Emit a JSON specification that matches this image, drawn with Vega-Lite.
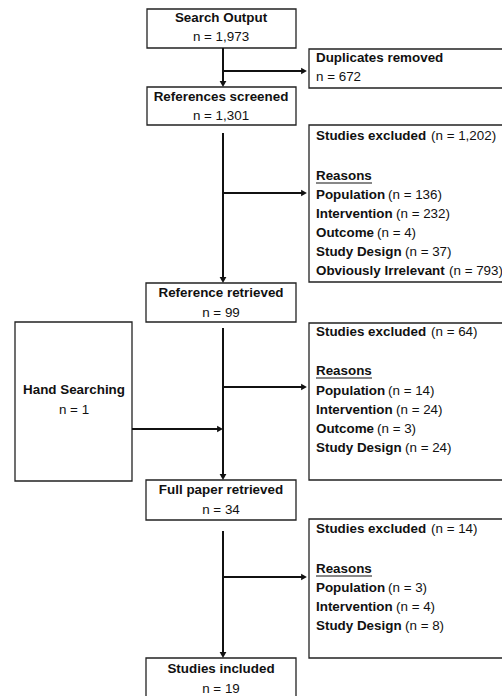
{
  "$schema": "https://vega.github.io/schema/vega-lite/v6.json",
  "width": 502,
  "height": 696,
  "autosize": "none",
  "padding": 0,
  "background": "white",
  "config": {"view": {"stroke": null}, "text": {"font": "Liberation Sans", "fontSize": 13.4, "color": "#111", "baseline": "middle"}},
  "datasets": {
    "boxes": [
      {"name": "Search Output", "x1": 147, "x2": 296, "y1": 9, "y2": 48},
      {"name": "References screened", "x1": 147, "x2": 296, "y1": 87, "y2": 125},
      {"name": "Reference retrieved", "x1": 146, "x2": 296, "y1": 283, "y2": 322},
      {"name": "Full paper retrieved", "x1": 146, "x2": 296, "y1": 480, "y2": 520},
      {"name": "Studies included", "x1": 146, "x2": 296, "y1": 658, "y2": 700},
      {"name": "Hand Searching", "x1": 15, "x2": 132, "y1": 322, "y2": 481},
      {"name": "Duplicates removed", "x1": 309, "x2": 505, "y1": 49, "y2": 88},
      {"name": "Excluded 1", "x1": 309, "x2": 505, "y1": 125, "y2": 282},
      {"name": "Excluded 2", "x1": 309, "x2": 505, "y1": 323, "y2": 480},
      {"name": "Excluded 3", "x1": 309, "x2": 505, "y1": 519, "y2": 658}
    ],
    "lines": [
      {"kind": "connector", "x1": 223, "x2": 223, "y1": 48, "y2": 83},
      {"kind": "connector", "x1": 223, "x2": 303, "y1": 71, "y2": 71},
      {"kind": "connector", "x1": 223, "x2": 223, "y1": 133, "y2": 279},
      {"kind": "connector", "x1": 223, "x2": 303, "y1": 193, "y2": 193},
      {"kind": "connector", "x1": 223, "x2": 223, "y1": 328, "y2": 476},
      {"kind": "connector", "x1": 223, "x2": 303, "y1": 387, "y2": 387},
      {"kind": "connector", "x1": 132, "x2": 219, "y1": 429, "y2": 429},
      {"kind": "connector", "x1": 223, "x2": 223, "y1": 531, "y2": 654},
      {"kind": "connector", "x1": 223, "x2": 303, "y1": 577, "y2": 577},
      {"kind": "underline", "x1": 316, "x2": 372, "y1": 183, "y2": 183},
      {"kind": "underline", "x1": 316, "x2": 372, "y1": 378, "y2": 378},
      {"kind": "underline", "x1": 316, "x2": 372, "y1": 576, "y2": 576}
    ],
    "heads": [
      {"x": 223, "y": 84, "dir": "down"},
      {"x": 304, "y": 71, "dir": "right"},
      {"x": 223, "y": 280, "dir": "down"},
      {"x": 304, "y": 193, "dir": "right"},
      {"x": 223, "y": 477, "dir": "down"},
      {"x": 304, "y": 387, "dir": "right"},
      {"x": 220, "y": 429, "dir": "right"},
      {"x": 223, "y": 655, "dir": "down"},
      {"x": 304, "y": 577, "dir": "right"}
    ],
    "labels": [
      {"role": "title", "x": 221, "y": 18, "text": "Search Output"},
      {"role": "title", "x": 221, "y": 97, "text": "References screened"},
      {"role": "title", "x": 221, "y": 293, "text": "Reference retrieved"},
      {"role": "title", "x": 221, "y": 490, "text": "Full paper retrieved"},
      {"role": "title", "x": 221, "y": 669, "text": "Studies included"},
      {"role": "title", "x": 74, "y": 390, "text": "Hand Searching"},
      {"role": "count", "x": 221, "y": 37, "text": "n = 1,973"},
      {"role": "count", "x": 221, "y": 116, "text": "n = 1,301"},
      {"role": "count", "x": 221, "y": 313, "text": "n = 99"},
      {"role": "count", "x": 221, "y": 510, "text": "n = 34"},
      {"role": "count", "x": 221, "y": 689, "text": "n = 19"},
      {"role": "count", "x": 74, "y": 410, "text": "n = 1"},
      {"role": "head", "x": 316, "y": 58, "text": "Duplicates removed"},
      {"role": "detail", "x": 316, "y": 77, "text": "n = 672"},
      {"role": "head", "x": 316, "y": 136, "text": "Studies excluded"},
      {"role": "detail", "x": 431, "y": 136, "text": "(n = 1,202)"},
      {"role": "head", "x": 316, "y": 176, "text": "Reasons"},
      {"role": "head", "x": 316, "y": 195, "text": "Population"},
      {"role": "detail", "x": 388, "y": 195, "text": "(n = 136)"},
      {"role": "head", "x": 316, "y": 214, "text": "Intervention"},
      {"role": "detail", "x": 396, "y": 214, "text": "(n = 232)"},
      {"role": "head", "x": 316, "y": 233, "text": "Outcome"},
      {"role": "detail", "x": 377, "y": 233, "text": "(n = 4)"},
      {"role": "head", "x": 316, "y": 252, "text": "Study Design"},
      {"role": "detail", "x": 405, "y": 252, "text": "(n = 37)"},
      {"role": "head", "x": 316, "y": 271, "text": "Obviously Irrelevant"},
      {"role": "detail", "x": 449, "y": 271, "text": "(n = 793)"},
      {"role": "head", "x": 316, "y": 332, "text": "Studies excluded"},
      {"role": "detail", "x": 431, "y": 332, "text": "(n = 64)"},
      {"role": "head", "x": 316, "y": 371, "text": "Reasons"},
      {"role": "head", "x": 316, "y": 391, "text": "Population"},
      {"role": "detail", "x": 388, "y": 391, "text": "(n = 14)"},
      {"role": "head", "x": 316, "y": 410, "text": "Intervention"},
      {"role": "detail", "x": 396, "y": 410, "text": "(n = 24)"},
      {"role": "head", "x": 316, "y": 429, "text": "Outcome"},
      {"role": "detail", "x": 377, "y": 429, "text": "(n = 3)"},
      {"role": "head", "x": 316, "y": 448, "text": "Study Design"},
      {"role": "detail", "x": 405, "y": 448, "text": "(n = 24)"},
      {"role": "head", "x": 316, "y": 529, "text": "Studies excluded"},
      {"role": "detail", "x": 431, "y": 529, "text": "(n = 14)"},
      {"role": "head", "x": 316, "y": 569, "text": "Reasons"},
      {"role": "head", "x": 316, "y": 588, "text": "Population"},
      {"role": "detail", "x": 388, "y": 588, "text": "(n = 3)"},
      {"role": "head", "x": 316, "y": 607, "text": "Intervention"},
      {"role": "detail", "x": 396, "y": 607, "text": "(n = 4)"},
      {"role": "head", "x": 316, "y": 626, "text": "Study Design"},
      {"role": "detail", "x": 405, "y": 626, "text": "(n = 8)"}
    ]
  },
  "layer": [
    {
      "data": {"name": "boxes"},
      "mark": {"type": "rect", "fill": "white", "stroke": "#222", "strokeWidth": 1.3},
      "encoding": {
        "x": {"field": "x1", "type": "quantitative", "scale": {"domain": [0, 502], "nice": false, "zero": false}, "axis": null},
        "x2": {"field": "x2"},
        "y": {"field": "y1", "type": "quantitative", "scale": {"domain": [0, 696], "nice": false, "zero": false, "reverse": true}, "axis": null},
        "y2": {"field": "y2"}
      }
    },
    {
      "data": {"name": "lines"},
      "transform": [{"filter": "datum.kind === 'connector'"}],
      "mark": {"type": "rule", "color": "#111", "strokeWidth": 2},
      "encoding": {
        "x": {"field": "x1", "type": "quantitative"},
        "x2": {"field": "x2"},
        "y": {"field": "y1", "type": "quantitative"},
        "y2": {"field": "y2"}
      }
    },
    {
      "data": {"name": "lines"},
      "transform": [{"filter": "datum.kind === 'underline'"}],
      "mark": {"type": "rule", "color": "#111", "strokeWidth": 1},
      "encoding": {
        "x": {"field": "x1", "type": "quantitative"},
        "x2": {"field": "x2"},
        "y": {"field": "y1", "type": "quantitative"},
        "y2": {"field": "y2"}
      }
    },
    {
      "data": {"name": "heads"},
      "mark": {"type": "point", "filled": true, "color": "#111", "size": 45, "opacity": 1, "strokeWidth": 0},
      "encoding": {
        "x": {"field": "x", "type": "quantitative"},
        "y": {"field": "y", "type": "quantitative"},
        "shape": {"field": "dir", "type": "nominal", "scale": {"domain": ["right", "down"], "range": ["triangle-right", "triangle-down"]}, "legend": null}
      }
    },
    {
      "data": {"name": "labels"},
      "transform": [{"filter": "datum.role === 'title'"}],
      "mark": {"type": "text", "fontWeight": "bold", "align": "center"},
      "encoding": {
        "x": {"field": "x", "type": "quantitative"},
        "y": {"field": "y", "type": "quantitative"},
        "text": {"field": "text"}
      }
    },
    {
      "data": {"name": "labels"},
      "transform": [{"filter": "datum.role === 'count'"}],
      "mark": {"type": "text", "fontWeight": "normal", "align": "center"},
      "encoding": {
        "x": {"field": "x", "type": "quantitative"},
        "y": {"field": "y", "type": "quantitative"},
        "text": {"field": "text"}
      }
    },
    {
      "data": {"name": "labels"},
      "transform": [{"filter": "datum.role === 'head'"}],
      "mark": {"type": "text", "fontWeight": "bold", "align": "left"},
      "encoding": {
        "x": {"field": "x", "type": "quantitative"},
        "y": {"field": "y", "type": "quantitative"},
        "text": {"field": "text"}
      }
    },
    {
      "data": {"name": "labels"},
      "transform": [{"filter": "datum.role === 'detail'"}],
      "mark": {"type": "text", "fontWeight": "normal", "align": "left"},
      "encoding": {
        "x": {"field": "x", "type": "quantitative"},
        "y": {"field": "y", "type": "quantitative"},
        "text": {"field": "text"}
      }
    }
  ]
}
